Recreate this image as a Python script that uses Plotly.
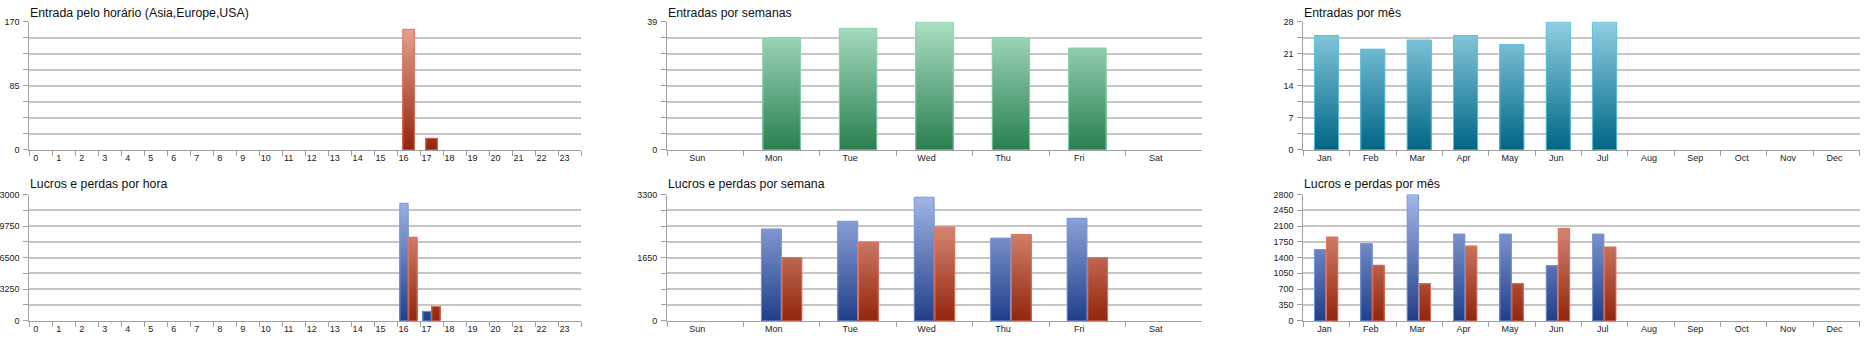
import plotly.graph_objects as go

# ---------------- data ----------------
hours = ["0", "1", "2", "3", "4", "5", "6", "7", "8", "9", "10", "11",
         "12", "13", "14", "15", "16", "17", "18", "19", "20", "21", "22", "23"]
entradas_hora = [0, 0, 0, 0, 0, 0, 0, 0, 0, 0, 0, 0,
                 0, 0, 0, 0, 160, 15, 0, 0, 0, 0, 0, 0]
lucros_hora = [0, 0, 0, 0, 0, 0, 0, 0, 0, 0, 0, 0,
               0, 0, 0, 0, 12100, 950, 0, 0, 0, 0, 0, 0]
perdas_hora = [0, 0, 0, 0, 0, 0, 0, 0, 0, 0, 0, 0,
               0, 0, 0, 0, 8600, 1440, 0, 0, 0, 0, 0, 0]

weekdays = ["Sun", "Mon", "Tue", "Wed", "Thu", "Fri", "Sat"]
entradas_semana = [0, 34, 37, 39, 34, 31, 0]
lucros_semana = [0, 2400, 2600, 3230, 2160, 2680, 0]
perdas_semana = [0, 1650, 2060, 2450, 2250, 1650, 0]

months = ["Jan", "Feb", "Mar", "Apr", "May", "Jun",
          "Jul", "Aug", "Sep", "Oct", "Nov", "Dec"]
entradas_mes = [25, 22, 24, 25, 23, 28, 28, 0, 0, 0, 0, 0]
lucros_mes = [1577, 1709, 2800, 1923, 1923, 1216, 1923, 0, 0, 0, 0, 0]
perdas_mes = [1857, 1230, 818, 1658, 818, 2048, 1636, 0, 0, 0, 0, 0]

titles = ["Entrada pelo horário (Asia,Europe,USA)", "Lucros e perdas por hora",
          "Entradas por semanas", "Lucros e perdas por semana",
          "Entradas por mês", "Lucros e perdas por mês"]

y_max = [170, 13000, 39, 3300, 28, 2800]
y_ticks = [[0, 85, 170], [0, 3250, 6500, 9750, 13000], [0, 39], [0, 1650, 3300],
           [0, 7, 14, 21, 28], [0, 350, 700, 1050, 1400, 1750, 2100, 2450, 2800]]
y_minor = [21.25, 1625, 4.875, 412.5, 3.5, None]

# ---------------- styles ----------------
W, H = 1873, 353
RED = ("#eaa898", "#93250c", "#e5735a")
BLUE = ("#a3b8e8", "#213f8a", "#7d98dc")
GREEN = ("#abdfc3", "#2a7f50", "#86d5ad")
TEAL = ("#90d0e3", "#006685", "#5ec3e2")
FONT = "Liberation Sans"
GRID = "#c6c6c6"
AXIS = "#a0a0a0"

col_px = [(29.3, 581.0), (667.0, 1202.0), (1303.3, 1859.6)]
row_px = [(21.7, 149.5), (194.5, 320.5)]
title_y = [13.5, 183.5]
label_shift = [-5, -8, -2]


def hex2rgb(h):
    h = h.lstrip("#")
    return tuple(int(h[i:i + 2], 16) for i in (0, 2, 4))


def mix(c_top, c_bot, t):
    a, b = hex2rgb(c_top), hex2rgb(c_bot)
    r = [round(b[i] + (a[i] - b[i]) * t) for i in range(3)]
    return "rgb(%d,%d,%d)" % tuple(r)


fig = go.Figure()


def gradient_bars(idx, cats, vals, ymax, style, offset, width, n=36):
    top, bot, outline = style
    xa = "x" if idx == 0 else "x%d" % (idx + 1)
    ya = "y" if idx == 0 else "y%d" % (idx + 1)
    step = ymax / n
    for k in range(n - 1, -1, -1):
        hk = [min(v, (k + 1) * step) if v > 0 else None for v in vals]
        fig.add_trace(go.Bar(
            x=cats, y=hk, xaxis=xa, yaxis=ya,
            marker=dict(color=mix(top, bot, (k + 0.5) / n), line=dict(width=0)),
            offset=offset, width=width, showlegend=False, hoverinfo="skip"))
    fig.add_trace(go.Bar(
        x=cats, y=[v if v > 0 else None for v in vals], xaxis=xa, yaxis=ya,
        marker=dict(color="rgba(0,0,0,0)", line=dict(width=1, color=outline)),
        offset=offset, width=width, showlegend=False, hoverinfo="skip"))


# panel order: 0 top-left, 1 bottom-left, 2 top-mid, 3 bottom-mid, 4 top-right, 5 bottom-right
gradient_bars(0, hours, entradas_hora, 170, RED, -0.25, 0.5)
gradient_bars(1, hours, lucros_hora, 13000, BLUE, -0.38, 0.36)
gradient_bars(1, hours, perdas_hora, 13000, RED, 0.01, 0.36)
gradient_bars(2, weekdays, entradas_semana, 39, GREEN, -0.245, 0.49)
gradient_bars(3, weekdays, lucros_semana, 3300, BLUE, -0.265, 0.26)
gradient_bars(3, weekdays, perdas_semana, 3300, RED, 0.005, 0.26)
gradient_bars(4, months, entradas_mes, 28, TEAL, -0.26, 0.52)
gradient_bars(5, months, lucros_mes, 2800, BLUE, -0.26, 0.245)
gradient_bars(5, months, perdas_mes, 2800, RED, 0.0, 0.245)

cats_for = [hours, hours, weekdays, weekdays, months, months]
layout = dict(
    width=W, height=H, margin=dict(l=0, r=0, t=0, b=0),
    paper_bgcolor="white", plot_bgcolor="white",
    barmode="overlay", showlegend=False,
    font=dict(family=FONT, size=9, color="#222222"),
    annotations=[],
)
for i in range(6):
    c, r = i // 2, i % 2
    x0, x1 = col_px[c]
    y0, y1 = row_px[r]
    sfx = "" if i == 0 else str(i + 1)
    ncat = len(cats_for[i])
    xa = dict(
        domain=[x0 / W, x1 / W], anchor="y" + sfx, type="category",
        categoryorder="array", categoryarray=cats_for[i],
        range=[-0.5, ncat - 0.5], fixedrange=True,
        showgrid=False, zeroline=False, showline=True, linecolor=AXIS, linewidth=1,
        ticks="outside", tickson="boundaries", ticklen=5, tickcolor=AXIS,
        tickfont=dict(family=FONT, size=9, color="#222222"),
        ticklabelshift=label_shift[c], automargin=False,
    )
    ya = dict(
        domain=[1 - y1 / H, 1 - y0 / H], anchor="x" + sfx,
        range=[0, y_max[i] * 1.0005], fixedrange=True,
        tickmode="array", tickvals=y_ticks[i],
        ticktext=[str(v) for v in y_ticks[i]],
        showgrid=True, gridcolor=GRID, gridwidth=1.6,
        zeroline=False, showline=True, linecolor=AXIS, linewidth=1,
        ticks="outside", ticklen=5, tickcolor=AXIS,
        tickfont=dict(family=FONT, size=9, color="#222222"),
        ticklabelstandoff=2, automargin=False,
    )
    if y_minor[i]:
        ya["minor"] = dict(tickmode="linear", tick0=0, dtick=y_minor[i],
                           showgrid=True, gridcolor=GRID, gridwidth=1.6,
                           ticks="outside", ticklen=5, tickcolor=AXIS)
    layout["xaxis" + sfx] = xa
    layout["yaxis" + sfx] = ya
    layout["annotations"].append(dict(
        text=titles[i], xref="paper", yref="paper",
        x=(x0 - 1) / W, y=1 - title_y[r] / H, xanchor="left", yanchor="middle",
        showarrow=False, font=dict(family=FONT, size=12.3, color="#111111")))

fig.update_layout(**layout)
fig.write_html("out.html")
